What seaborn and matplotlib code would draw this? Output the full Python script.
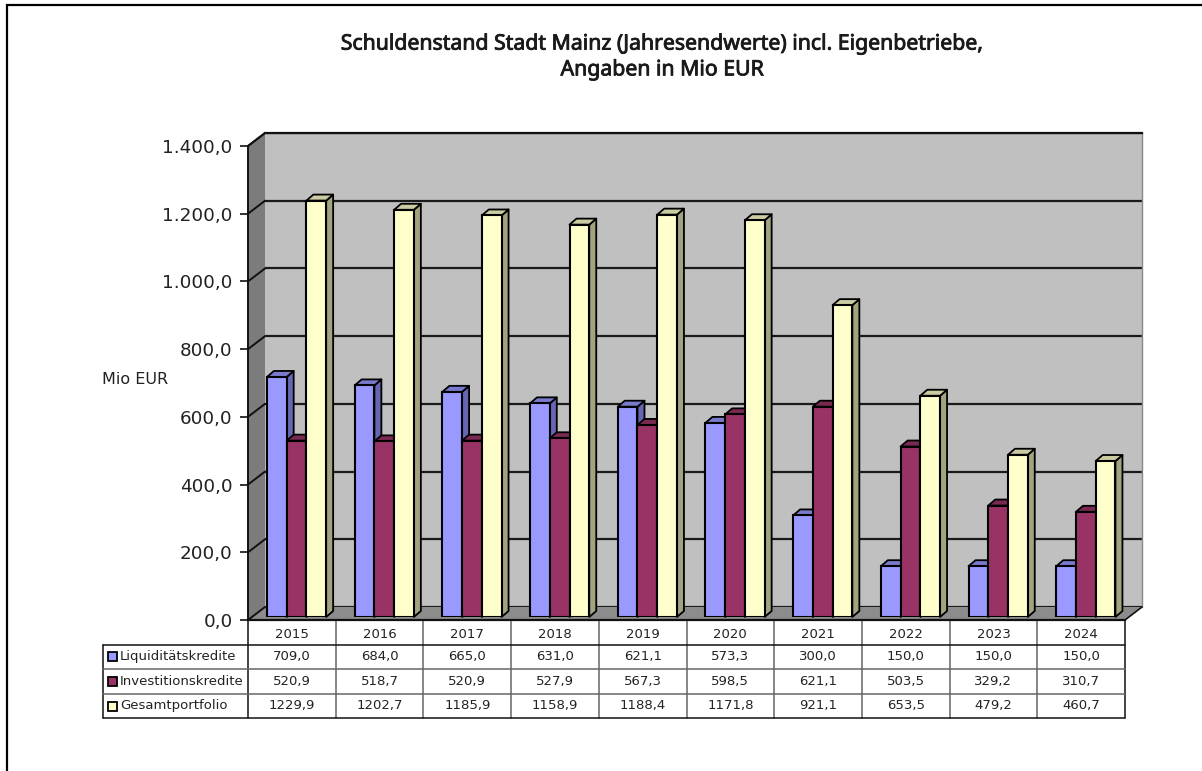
import matplotlib
matplotlib.use("Agg")
import matplotlib.patheffects as pe
import matplotlib.pyplot as plt
import pandas as pd
import seaborn as sns
from matplotlib.patches import Polygon, Rectangle

years = ["2015", "2016", "2017", "2018", "2019", "2020", "2021", "2022", "2023", "2024"]
liquiditaet = [709.0, 684.0, 665.0, 631.0, 621.1, 573.3, 300.0, 150.0, 150.0, 150.0]
investition = [520.9, 518.7, 520.9, 527.9, 567.3, 598.5, 621.1, 503.5, 329.2, 310.7]
gesamt = [1229.9, 1202.7, 1185.9, 1158.9, 1188.4, 1171.8, 921.1, 653.5, 479.2, 460.7]
series = ["Liquiditätskredite", "Investitionskredite", "Gesamtportfolio"]
y_ticks = [0, 200, 400, 600, 800, 1000, 1200, 1400]

colors = ["#9999FF", "#993366", "#FFFFCC"]
side_colors = ["#6666B3", "#6B2447", "#A3A37F"]
top_colors = ["#7A7ACC", "#7A2952", "#CCCCA3"]
text_col = "#222222"

W, H = 1202, 771
FRONT_L, FRONT_R, FRONT_T, FRONT_B = 248, 1125, 146, 620
DX, DY = 17, 13       # Tiefe der Rueckwand
BAR_DX, BAR_DY = 7, 6 # Tiefe der Balken

df = pd.DataFrame({"Jahr": years, series[0]: liquiditaet, series[1]: investition, series[2]: gesamt})
long_df = df.melt(id_vars="Jahr", var_name="Reihe", value_name="Wert")

sns.set_style("white")
plt.rcParams["font.family"] = ["DejaVu Sans"]


def px_axes(fig, left, top, right, bottom, **kw):
    return fig.add_axes([left / W, 1 - bottom / H, (right - left) / W, (bottom - top) / H], **kw)


def de_fmt(v):
    s = f"{v:,.1f}"
    return s.replace(",", "X").replace(".", ",").replace("X", ".")


fig = plt.figure(figsize=(W / 100, H / 100), dpi=100, facecolor="white")

# Rueckwand mit Gitterlinien
back = px_axes(fig, FRONT_L + DX, FRONT_T - DY, FRONT_R + DX, FRONT_B - DY, zorder=1)
back.set_facecolor("#C0C0C0")
back.set_ylim(0, 1400)
back.set_xlim(0, 1)
back.set_yticks(y_ticks)
back.set_xticks([])
back.set_yticklabels([])
back.grid(axis="y", color="#1a1a1a", lw=1.6)
back.set_axisbelow(True)
back.tick_params(left=False)
sns.despine(ax=back, left=True, bottom=True, right=False, top=False)
back.spines["top"].set_color("#111111")
back.spines["top"].set_linewidth(1.6)
back.spines["right"].set_color("#888888")
back.spines["right"].set_linewidth(1.0)

# Ebene in Pixeln fuer Seitenwand, Boden, Rahmen und Tabelle
page = fig.add_axes([0, 0, 1, 1], zorder=2)
page.set_xlim(0, W)
page.set_ylim(H, 0)
page.axis("off")
page.patch.set_alpha(0)
page.plot([7, 7, W], [H, 4.5, 4.5], color="black", lw=1.6, solid_joinstyle="miter")
page.add_patch(Polygon([(FRONT_L, FRONT_T), (FRONT_L + DX, FRONT_T - DY), (FRONT_L + DX, FRONT_B - DY), (FRONT_L, FRONT_B)],
                       facecolor="#7C7C7C", edgecolor="none"))
page.add_patch(Polygon([(FRONT_L, FRONT_B), (FRONT_L + DX, FRONT_B - DY), (FRONT_R + DX, FRONT_B - DY), (FRONT_R, FRONT_B)],
                       facecolor="#8C8C8C", edgecolor="none"))
page.plot([FRONT_L, FRONT_L + DX], [FRONT_T, FRONT_T - DY], color="#111111", lw=1.4)
page.plot([FRONT_R, FRONT_R + DX], [FRONT_B, FRONT_B - DY], color="#111111", lw=1.2)
px_per_unit = (FRONT_B - FRONT_T) / 1400
for v in y_ticks:
    y = FRONT_B - v * px_per_unit
    page.plot([FRONT_L, FRONT_L + DX], [y, y - DY], color="#111111", lw=1.4)

# Vordere Achse mit Beschriftung
front = px_axes(fig, FRONT_L, FRONT_T, FRONT_R, FRONT_B, zorder=3)
front.patch.set_alpha(0)
front.set_ylim(0, 1400)
front.set_xlim(0, 1)
front.set_xticks([])
front.set_yticks(y_ticks)
front.set_yticklabels([de_fmt(v) for v in y_ticks], fontsize=13.2, color=text_col)
front.tick_params(axis="y", left=True, length=6, width=1.2, color="#111111", pad=5)
sns.despine(ax=front, top=True, right=True)
front.spines["left"].set_color("#111111")
front.spines["left"].set_linewidth(1.4)
front.spines["bottom"].set_color("#111111")
front.spines["bottom"].set_linewidth(1.6)

# Balken: Position mittig in der Tiefe
bars = px_axes(fig, FRONT_L + 4.7, FRONT_T - 3, FRONT_R + 4.7, FRONT_B - 3, zorder=4)
bars.patch.set_alpha(0)
sns.barplot(data=long_df, x="Jahr", y="Wert", hue="Reihe", hue_order=series, order=years,
            palette=colors, width=0.675, gap=0, saturation=1, edgecolor="black", linewidth=1.5,
            legend=False, ax=bars)
bars.set_xlim(-0.5, len(years) - 0.5)
bars.set_ylim(0, 1400)
bars.axis("off")

# Balkentiefe als Versatz in Pixeln, aus den gezeichneten Balken abgeleitet
ux = (len(years)) / (FRONT_R - FRONT_L)
uy = 1400 / (FRONT_B - FRONT_T)
off_x, off_y = BAR_DX * ux, BAR_DY * uy
for i, container in enumerate(bars.containers):
    for rect in container:
        x0, w, h = rect.get_x(), rect.get_width(), rect.get_height()
        x1 = x0 + w
        z = 2 + i
        rect.set_zorder(z + 0.5)
        bars.add_patch(Polygon([(x1, 0), (x1 + off_x, off_y), (x1 + off_x, h + off_y), (x1, h)],
                               facecolor=side_colors[i], edgecolor="black", lw=1.3, zorder=z,
                               clip_on=False, joinstyle="round"))
        bars.add_patch(Polygon([(x0, h), (x0 + off_x, h + off_y), (x1 + off_x, h + off_y), (x1, h)],
                               facecolor=top_colors[i], edgecolor="black", lw=1.3, zorder=z,
                               clip_on=False, joinstyle="round"))

# Datentabelle
table = fig.add_axes([0, 0, 1, 1], zorder=5)
table.set_xlim(0, W)
table.set_ylim(H, 0)
table.axis("off")
table.patch.set_alpha(0)
row_y = [620, 644.5, 669, 694, 718]
col_w = (FRONT_R - FRONT_L) / len(years)
LABEL_L = 102.5
for i in range(len(years) + 1):
    x = FRONT_L + i * col_w
    table.plot([x, x], [row_y[0], row_y[-1]], color="#666666" if 0 < i < len(years) else "#111111", lw=1.1)
table.plot([LABEL_L, LABEL_L], [row_y[1], row_y[-1]], color="#111111", lw=1.1)
table.plot([FRONT_L, FRONT_R], [row_y[0], row_y[0]], color="#111111", lw=1.4)
for j, y in enumerate(row_y[1:]):
    table.plot([LABEL_L, FRONT_R], [y, y], color="#111111" if j in (0, 3) else "#666666", lw=1.1)
for i, yr in enumerate(years):
    table.text(FRONT_L + (i + 0.5) * col_w, (row_y[0] + row_y[1]) / 2 + 2, yr, ha="center", va="center",
               fontsize=9.5, color=text_col)
for j, (name, vals) in enumerate(zip(series, [liquiditaet, investition, gesamt])):
    yc = (row_y[j + 1] + row_y[j + 2]) / 2
    table.add_patch(Rectangle((108, yc - 4.5), 9, 9, facecolor=colors[j], edgecolor="black", lw=1.3))
    table.text(120, yc, name, ha="left", va="center", fontsize=9.5, color=text_col)
    for i, v in enumerate(vals):
        table.text(FRONT_L + (i + 0.5) * col_w, yc, f"{v:.1f}".replace(".", ","), ha="center", va="center",
                   fontsize=9.5, color=text_col)

table.text(135, 380, "Mio EUR", ha="center", va="center", fontsize=11.5, color=text_col)
title = table.text(662, 57, "Schuldenstand Stadt Mainz (Jahresendwerte) incl. Eigenbetriebe,\nAngaben in Mio EUR",
                   ha="center", va="center", fontsize=15.3, family="Noto Sans", color="#1a1a1a",
                   linespacing=1.3)
# Noto Sans hat hier keinen halbfetten Schnitt, daher duenne Kontur
title.set_path_effects([pe.withStroke(linewidth=0.6, foreground="#1a1a1a")])

fig.savefig("out.png", dpi=100)
